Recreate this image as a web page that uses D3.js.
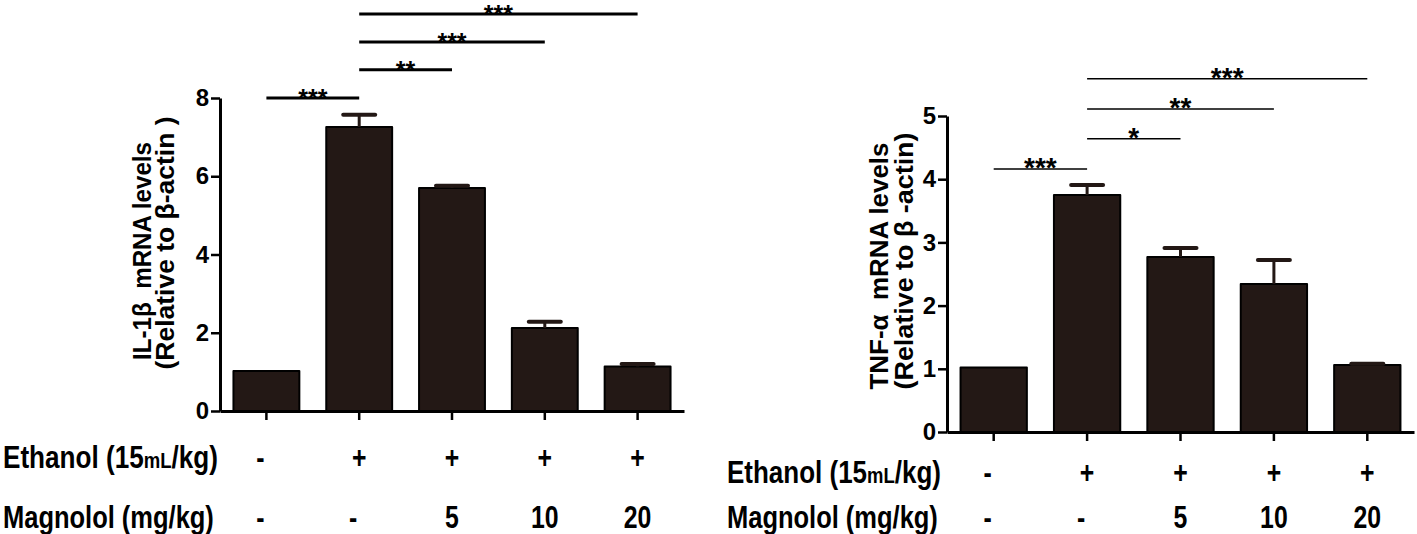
<!DOCTYPE html>
<html>
<head>
<meta charset="utf-8" />
<script src="https://d3js.org/d3.v7.min.js"></script>
<style>
  body { margin: 0; background: #fff; }
  svg text { font-family: "Liberation Sans", Arial, sans-serif; font-weight: bold; fill: #000; }
</style>
</head>
<body>
<div id="chart"></div>
<script>
// groups: ethanol / magnolol dose
var groups = ["ctrl", "eth", "eth+5", "eth+10", "eth+20"];
var ethanolRow = ["-", "+", "+", "+", "+"];
var magnololRow = ["-", "-", "5", "10", "20"];

// IL-1beta panel
var il1bMean = [1.02, 7.26, 5.70, 2.12, 1.14];
var il1bErr = [0, 0.31, 0.06, 0.16, 0.06];
var il1bTicks = [0, 2, 4, 6, 8];
var il1bSig = [
  {from: 0, to: 1, level: 8.0, label: "***"},
  {from: 1, to: 2, level: 8.72, label: "**"},
  {from: 1, to: 3, level: 9.43, label: "***"},
  {from: 1, to: 4, level: 10.15, label: "***"}
];

// TNF-alpha panel
var tnfMean = [1.02, 3.75, 2.77, 2.34, 1.06];
var tnfErr = [0, 0.16, 0.14, 0.38, 0.02];
var tnfTicks = [0, 1, 2, 3, 4, 5];
var tnfSig = [
  {from: 0, to: 1, level: 4.16, label: "***"},
  {from: 1, to: 2, level: 4.64, label: "*"},
  {from: 1, to: 3, level: 5.11, label: "**"},
  {from: 1, to: 4, level: 5.59, label: "***"}
];

var svg = d3.select("#chart").append("svg")
  .attr("width", 1417)
  .attr("height", 534);

drawPanel({
  mean: il1bMean, err: il1bErr, ticks: il1bTicks, sig: il1bSig,
  left: 220, right: 684, bottom: 411, top: 98, ymax: 8,
  sigWidth: 3, starSize: 25, starDy: 9,
  labels: ["IL-1\u03b2  mRNA levels", "(Relative to \u03b2-actin )"],
  labelX: [142, 165], labelY: [251, 243], labelLen: [218, 253],
  ethY: 457, magY: 517, rowX: 3, ethLen: 215, magLen: 211
});

drawPanel({
  mean: tnfMean, err: tnfErr, ticks: tnfTicks, sig: tnfSig,
  left: 947, right: 1414, bottom: 432, top: 116, ymax: 5,
  sigWidth: 1.5, starSize: 28, starDy: 8,
  labels: ["TNF-\u03b1  mRNA levels", "(Relative to \u03b2 -actin)"],
  labelX: [879, 904], labelY: [266, 261], labelLen: [247, 257],
  ethY: 472, magY: 517, rowX: 727, ethLen: 214, magLen: 211
});

// condensed label built from pieces: [text, fontSize]
function rowLabel(parent, pieces, x0, yc, len) {
  var lg = parent.append("g");
  var inner = lg.append("g");
  var cx = 0;
  pieces.forEach(function(p) {
    var t = inner.append("text")
      .attr("x", cx)
      .attr("y", 0)
      .attr("font-size", p[1])
      .text(p[0]);
    cx += t.node().getComputedTextLength();
  });
  var sx = len / cx;
  lg.attr("transform", "translate(" + x0 + "," + (yc + 11) + ") scale(" + sx + ",1)");
}

function drawPanel(c) {
  var x = d3.scaleBand()
    .domain(groups)
    .range([c.left, c.right])
    .paddingInner(0.29)
    .paddingOuter(0.145);

  var y = d3.scaleLinear()
    .domain([0, c.ymax])
    .range([c.bottom, c.top]);

  var g = svg.append("g");
  var mid = function(i) { return x(groups[i]) + x.bandwidth() / 2; };

  // bars
  g.selectAll("rect.bar")
    .data(c.mean)
    .enter().append("rect")
    .attr("class", "bar")
    .attr("x", function(d, i) { return x(groups[i]); })
    .attr("y", function(d) { return y(d); })
    .attr("width", x.bandwidth())
    .attr("height", function(d) { return y(0) - y(d); })
    .attr("fill", "#231815")
    .attr("stroke", "#000")
    .attr("stroke-width", 2)
    .attr("stroke-linejoin", "round");

  // error bars (upper only)
  var errIdx = d3.range(c.mean.length).filter(function(i) { return c.err[i] > 0; });
  var eb = g.selectAll("g.err")
    .data(errIdx)
    .enter().append("g")
    .attr("class", "err");
  eb.append("line")
    .attr("x1", function(i) { return mid(i); })
    .attr("x2", function(i) { return mid(i); })
    .attr("y1", function(i) { return y(c.mean[i]); })
    .attr("y2", function(i) { return y(c.mean[i] + c.err[i]); })
    .attr("stroke", "#231815")
    .attr("stroke-width", 3);
  eb.append("line")
    .attr("x1", function(i) { return mid(i) - 16; })
    .attr("x2", function(i) { return mid(i) + 16; })
    .attr("y1", function(i) { return y(c.mean[i] + c.err[i]); })
    .attr("y2", function(i) { return y(c.mean[i] + c.err[i]); })
    .attr("stroke", "#231815")
    .attr("stroke-width", 4)
    .attr("stroke-linecap", "round");

  // y axis
  var yAxis = g.append("g")
    .attr("transform", "translate(" + c.left + ",0)")
    .call(d3.axisLeft(y).tickValues(c.ticks).tickSize(9).tickSizeOuter(0).tickPadding(2).tickFormat(d3.format("d")));
  yAxis.select(".domain").attr("stroke", "#000").attr("stroke-width", 3);
  yAxis.selectAll(".tick line").attr("stroke", "#000").attr("stroke-width", 2.5);
  yAxis.selectAll(".tick text")
    .attr("font-size", 24)
    .attr("font-family", "Liberation Sans, Arial, sans-serif")
    .attr("font-weight", "bold")
    .attr("fill", "#000");

  // x axis
  var xAxis = g.append("g")
    .attr("transform", "translate(0," + c.bottom + ")")
    .call(d3.axisBottom(x).tickSize(9).tickSizeOuter(0).tickFormat(""));
  xAxis.select(".domain").attr("stroke", "#000").attr("stroke-width", 3);
  xAxis.selectAll(".tick line").attr("stroke", "#000").attr("stroke-width", 2.5);

  // axis title
  g.selectAll("text.ytitle")
    .data(c.labels)
    .enter().append("text")
    .attr("class", "ytitle")
    .attr("transform", function(d, i) { return "translate(" + c.labelX[i] + "," + c.labelY[i] + ") rotate(-90)"; })
    .attr("text-anchor", "middle")
    .attr("dy", "0.35em")
    .attr("font-size", 25)
    .attr("textLength", function(d, i) { return c.labelLen[i]; })
    .attr("lengthAdjust", "spacingAndGlyphs")
    .style("white-space", "pre")
    .text(function(d) { return d; });

  // significance brackets
  var sg = g.selectAll("g.sig")
    .data(c.sig)
    .enter().append("g")
    .attr("class", "sig");
  sg.append("line")
    .attr("x1", function(d) { return mid(d.from); })
    .attr("x2", function(d) { return mid(d.to); })
    .attr("y1", function(d) { return y(d.level); })
    .attr("y2", function(d) { return y(d.level); })
    .attr("stroke", "#000")
    .attr("stroke-width", c.sigWidth);
  sg.append("text")
    .attr("x", function(d) { return (mid(d.from) + mid(d.to)) / 2; })
    .attr("y", function(d) { return y(d.level) + c.starDy; })
    .attr("text-anchor", "middle")
    .attr("font-size", c.starSize)
    .text(function(d) { return d.label; });

  // treatment rows
  rowLabel(g, [["Ethanol (15", 31], ["mL", 22], ["/kg)", 31]], c.rowX, c.ethY, c.ethLen);
  rowLabel(g, [["Magnolol (mg/kg)", 31]], c.rowX, c.magY, c.magLen);

  g.selectAll("g.eth")
    .data(ethanolRow)
    .enter().append("g")
    .attr("class", "eth")
    .attr("transform", function(d, i) { return "translate(" + (mid(i) - (d === "-" ? 6 : 0)) + "," + (c.ethY + 11) + ") scale(0.8,1)"; })
    .append("text")
    .attr("text-anchor", "middle")
    .attr("font-size", 31)
    .text(function(d) { return d; });

  g.selectAll("g.mag")
    .data(magnololRow)
    .enter().append("g")
    .attr("class", "mag")
    .attr("transform", function(d, i) { return "translate(" + (mid(i) - (d === "-" ? 6 : 0)) + "," + (c.magY + 11) + ") scale(0.8,1)"; })
    .append("text")
    .attr("text-anchor", "middle")
    .attr("font-size", 31)
    .text(function(d) { return d; });
}
</script>
</body>
</html>
